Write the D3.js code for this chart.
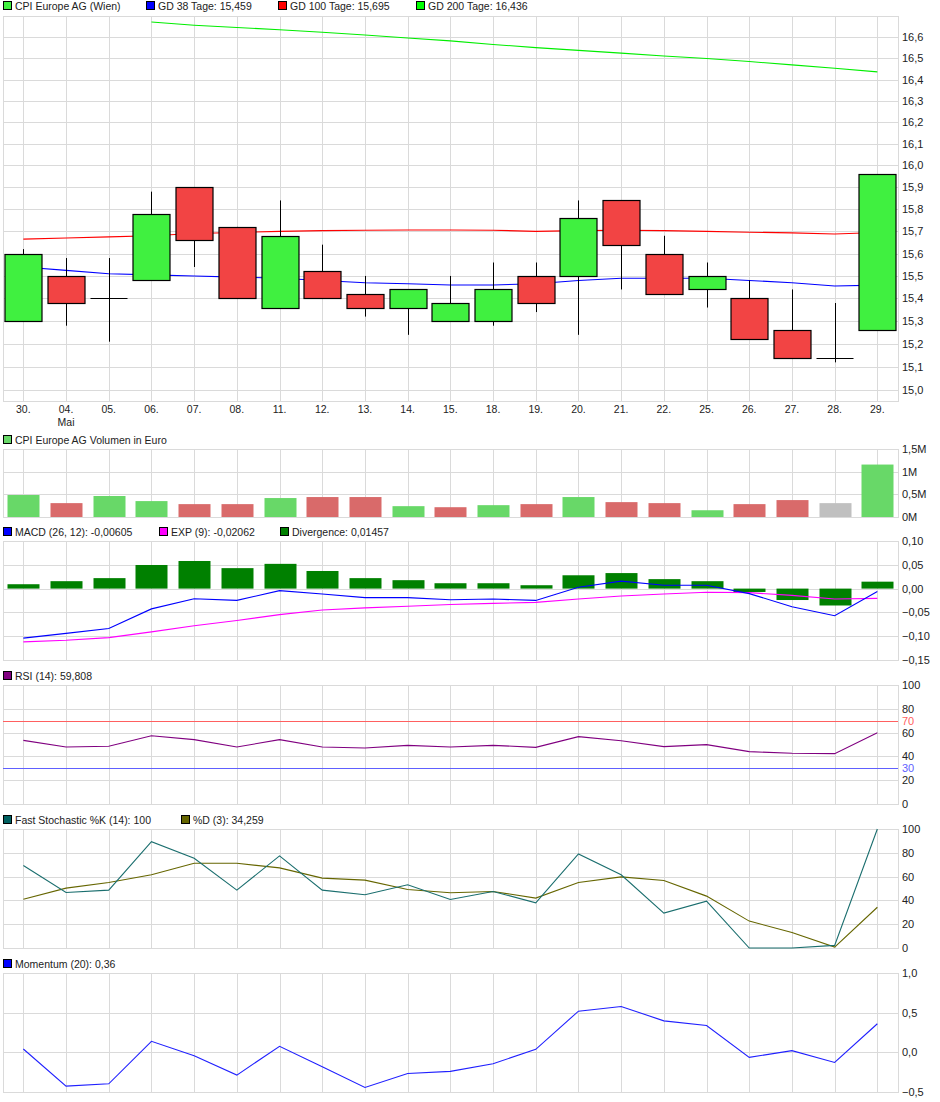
<!DOCTYPE html>
<html><head><meta charset="utf-8">
<script src="https://cdn.jsdelivr.net/npm/d3@7"></script>
<style>
body{margin:0;background:#fff;}
svg text{font-family:"Liberation Sans",Arial,sans-serif;font-size:10.5px;fill:#222;}
svg text.tick{font-size:11px;}
</style></head>
<body><svg id="c" width="940" height="1102"></svg>
<script>
// ---------- data ----------
const dates = ["30.","04.","05.","06.","07.","08.","11.","12.","13.","14.","15.","18.","19.","20.","21.","22.","25.","26.","27.","28.","29."];
const openP  = [15.30,15.50,15.40,15.48,15.90,15.72,15.36,15.52,15.42,15.36,15.30,15.30,15.50,15.50,15.84,15.60,15.44,15.40,15.26,15.14,15.26];
const highP  = [15.62,15.58,15.58,15.88,15.90,15.72,15.84,15.64,15.50,15.44,15.50,15.56,15.56,15.84,15.84,15.68,15.56,15.48,15.44,15.38,15.96];
const lowP   = [15.30,15.28,15.21,15.48,15.54,15.40,15.36,15.40,15.32,15.24,15.30,15.28,15.34,15.24,15.44,15.42,15.36,15.22,15.14,15.12,15.26];
const closeP = [15.60,15.38,15.40,15.78,15.66,15.40,15.68,15.40,15.36,15.44,15.38,15.44,15.38,15.76,15.64,15.42,15.50,15.22,15.14,15.14,15.96];
const gd38  = [15.54,15.525,15.51,15.505,15.50,15.495,15.49,15.48,15.47,15.465,15.46,15.46,15.465,15.48,15.49,15.49,15.49,15.48,15.47,15.455,15.459];
const gd100 = [15.665,15.67,15.675,15.68,15.69,15.695,15.70,15.703,15.705,15.706,15.706,15.705,15.70,15.703,15.705,15.703,15.70,15.696,15.693,15.688,15.695];
const gd200 = [null,null,null,16.673,16.658,16.647,16.636,16.624,16.611,16.597,16.583,16.566,16.551,16.538,16.525,16.511,16.499,16.485,16.469,16.453,16.436];
const volume = [0.485,0.306,0.463,0.351,0.284,0.284,0.418,0.44,0.44,0.239,0.216,0.261,0.284,0.44,0.328,0.306,0.149,0.284,0.373,0.306,1.157]; // Mio. Euro
const volDir = ["u","d","u","u","d","d","u","d","d","u","d","u","d","u","d","d","u","d","d","n","u"];
const divergence = [0.0092,0.0156,0.022,0.0496,0.058,0.043,0.052,0.037,0.022,0.0177,0.0113,0.0113,0.0071,0.028,0.0326,0.0199,0.0156,-0.0071,-0.024,-0.0355,0.01457];
const macd = [-0.104,-0.094,-0.084,-0.0426,-0.0213,-0.0248,-0.0043,-0.0113,-0.019,-0.019,-0.0234,-0.022,-0.0248,0.0028,0.0156,0.0071,0.0071,-0.0106,-0.038,-0.057,-0.00605];
const expSig = [-0.112,-0.1085,-0.103,-0.091,-0.078,-0.067,-0.0546,-0.045,-0.0404,-0.037,-0.0333,-0.031,-0.029,-0.022,-0.0156,-0.0113,-0.0078,-0.0085,-0.0142,-0.022,-0.02062];
const rsi = [53.5,47.9,48.5,57.4,54.1,47.9,54.1,47.9,47.1,49.3,47.9,49.3,47.6,56.6,53.2,48.2,49.9,44.0,42.6,42.3,59.808];
const stochK = [69.3,46.6,48.6,89.4,75.4,48.6,77.4,48.6,44.7,53.1,40.8,47.5,38.0,79.0,61.5,29.3,39.4,0,0,2.2,100];
const stochD = [41.0,50.3,55.0,61.5,71.2,71.2,67.3,58.7,57.0,49.2,46.4,47.5,41.9,55.0,59.8,56.7,43.6,22.6,13.1,0.8,34.259];
const momentum = [0.042,-0.426,-0.397,0.139,-0.042,-0.287,0.076,-0.181,-0.443,-0.266,-0.24,-0.143,0.038,0.519,0.578,0.397,0.338,-0.063,0.021,-0.127,0.36];

const priceTicks = [15.0,15.1,15.2,15.3,15.4,15.5,15.6,15.7,15.8,15.9,16.0,16.1,16.2,16.3,16.4,16.5,16.6];
const volTicks = [0,0.5,1,1.5];
const volTickLabels = ["0M","0,5M","1M","1,5M"];
const macdTicks = [-0.15,-0.10,-0.05,0,0.05,0.10];
const rsiTicks = [0,20,40,60,80,100];
const stochTicks = [0,20,40,60,80,100];
const momTicks = [-0.5,0,0.5,1.0];

// ---------- setup ----------
const loc = d3.formatLocale({decimal:",",thousands:".",grouping:[3],currency:["","€"]});
const f1 = loc.format(".1f"), f2 = loc.format(".2f");
const svg = d3.select("#c");
const L = 3, R = 898, gridCol = "#dadada";
const x = d3.scaleBand().domain(dates).range([2, 898.7]).padding(0);
const cx = d => x(d) + x.bandwidth()/2;

function panel(top, bottom, yScale, ticks, labelFn){
  const g = svg.append("g");
  g.selectAll("line.v").data(dates).join("line")
    .attr("x1", d => Math.round(cx(d))+0.5).attr("x2", d => Math.round(cx(d))+0.5)
    .attr("y1", top).attr("y2", bottom).attr("stroke", gridCol);
  g.selectAll("line.h").data(ticks).join("line")
    .attr("x1", L).attr("x2", R)
    .attr("y1", d => Math.round(yScale(d))+0.5).attr("y2", d => Math.round(yScale(d))+0.5)
    .attr("stroke", gridCol);
  g.append("rect").attr("x", L+0.5).attr("y", top+0.5).attr("width", R-L).attr("height", bottom-top)
    .attr("fill","none").attr("stroke", gridCol);
  g.selectAll("text.t").data(ticks).join("text").attr("class","tick")
    .attr("x", 902).attr("y", d => yScale(d)+4).text((d,i) => labelFn(d,i));
  return g;
}
function legend(y, items){
  items.forEach(it => {
    svg.append("rect").attr("x", it.x+0.5).attr("y", y-4.5).attr("width", 8).attr("height", 8)
      .attr("fill", it.color).attr("stroke", "#000");
    svg.append("text").attr("x", it.x+12).attr("y", y+4).text(it.text);
  });
}
function linePath(g, data, yScale, color, w){
  const line = d3.line().defined(d => d != null).x((d,i) => cx(dates[i])).y(d => yScale(d));
  g.append("path").attr("d", line(data)).attr("fill","none").attr("stroke", color).attr("stroke-width", w||1.1);
}

// ---------- main price chart (logarithmic) ----------
const yP = d3.scaleLog().domain([14.953, 16.702]).range([401, 16]);
const gMain = panel(16, 401, yP, priceTicks, d => f1(d));
legend(6, [
  {x:3, color:"#40f040", text:"CPI Europe AG (Wien)"},
  {x:146, color:"#0000ff", text:"GD 38 Tage: 15,459"},
  {x:278, color:"#ff0000", text:"GD 100 Tage: 15,695"},
  {x:416, color:"#00ff00", text:"GD 200 Tage: 16,436"}
]);
linePath(gMain, gd200, yP, "#00ee00");
linePath(gMain, gd100, yP, "#ff0000");
linePath(gMain, gd38, yP, "#0000ff");
const bw = 37;
const candles = gMain.append("g").selectAll("g").data(dates).join("g");
candles.append("line")
  .attr("x1", d => Math.round(cx(d))+0.5).attr("x2", d => Math.round(cx(d))+0.5)
  .attr("y1", (d,i) => yP(highP[i])).attr("y2", (d,i) => yP(lowP[i]))
  .attr("stroke", "#000");
candles.each(function(d,i){
  const g = d3.select(this);
  const c = Math.round(cx(d));
  if (openP[i] === closeP[i]) {
    g.append("line").attr("x1", c - bw/2).attr("x2", c + bw/2)
      .attr("y1", Math.round(yP(openP[i]))+0.5).attr("y2", Math.round(yP(openP[i]))+0.5)
      .attr("stroke","#000").attr("stroke-width",1.2);
  } else {
    const top = yP(Math.max(openP[i], closeP[i])), bot = yP(Math.min(openP[i], closeP[i]));
    g.append("rect").attr("x", c - bw/2 + 0.5).attr("y", Math.round(top)+0.5)
      .attr("width", bw).attr("height", Math.round(bot) - Math.round(top))
      .attr("fill", closeP[i] > openP[i] ? "#40f040" : "#f24444")
      .attr("stroke", "#000").attr("stroke-width", 1.2);
  }
});
svg.selectAll("text.xl").data(dates).join("text")
  .attr("x", d => cx(d)).attr("y", 413).attr("text-anchor","middle").text(d => d);
svg.append("text").attr("x", cx("04.")).attr("y", 426).attr("text-anchor","middle").text("Mai");

// ---------- volume ----------
const yV = d3.scaleLinear().domain([0, 1.5]).range([517, 449]);
const gVol = panel(449, 517, yV, volTicks, (d,i) => volTickLabels[i]);
legend(440, [{x:3, color:"#68d868", text:"CPI Europe AG Volumen in Euro"}]);
const vbw = 32;
const volColor = {u:"#68d868", d:"#d96a6a", n:"#c0c0c0"};
gVol.selectAll("rect.v").data(volume).join("rect")
  .attr("x", (d,i) => Math.round(cx(dates[i])) - vbw/2 + 0.5)
  .attr("y", d => yV(d)).attr("width", vbw).attr("height", d => yV(0) - yV(d))
  .attr("fill", (d,i) => volColor[volDir[i]]);

// ---------- MACD ----------
const yM = d3.scaleLinear().domain([-0.15, 0.10]).range([660, 541]);
const gM = panel(541, 660, yM, macdTicks, d => f2(d));
legend(532, [
  {x:3, color:"#0000ff", text:"MACD (26, 12): -0,00605"},
  {x:159, color:"#ff00ff", text:"EXP (9): -0,02062"},
  {x:280, color:"#008000", text:"Divergence: 0,01457"}
]);
gM.selectAll("rect.d").data(divergence).join("rect")
  .attr("x", (d,i) => Math.round(cx(dates[i])) - vbw/2 + 0.5)
  .attr("y", d => yM(Math.max(0,d))).attr("width", vbw)
  .attr("height", d => Math.abs(yM(d) - yM(0)))
  .attr("fill", "#008000");
linePath(gM, expSig, yM, "#ff00ff");
linePath(gM, macd, yM, "#0000ff");

// ---------- RSI ----------
const yR = d3.scaleLinear().domain([0, 100]).range([804, 685]);
const gR = panel(685, 804, yR, rsiTicks, d => d);
legend(676, [{x:3, color:"#800080", text:"RSI (14): 59,808"}]);
gR.append("line").attr("x1", L).attr("x2", R).attr("y1", Math.round(yR(70))+0.5).attr("y2", Math.round(yR(70))+0.5).attr("stroke","#ff6060");
gR.append("line").attr("x1", L).attr("x2", R).attr("y1", Math.round(yR(30))+0.5).attr("y2", Math.round(yR(30))+0.5).attr("stroke","#6060ff");
gR.append("text").attr("class","tick").attr("x", 902).attr("y", yR(70)+4).text("70").style("fill","#ff6060");
gR.append("text").attr("class","tick").attr("x", 902).attr("y", yR(30)+4).text("30").style("fill","#6060ff");
linePath(gR, rsi, yR, "#800080");

// ---------- Stochastic ----------
const yS = d3.scaleLinear().domain([0, 100]).range([948, 829]);
const gS = panel(829, 948, yS, stochTicks, d => d);
legend(820, [
  {x:3, color:"#006060", text:"Fast Stochastic %K (14): 100"},
  {x:181, color:"#666600", text:"%D (3): 34,259"}
]);
linePath(gS, stochD, yS, "#666600");
linePath(gS, stochK, yS, "#1a6e6e");

// ---------- Momentum ----------
const yMo = d3.scaleLinear().domain([-0.5, 1.0]).range([1092, 973]);
const gMo = panel(973, 1092, yMo, momTicks, d => f1(d));
legend(964, [{x:3, color:"#0000ff", text:"Momentum (20): 0,36"}]);
linePath(gMo, momentum, yMo, "#2020ff");
</script></body></html>
